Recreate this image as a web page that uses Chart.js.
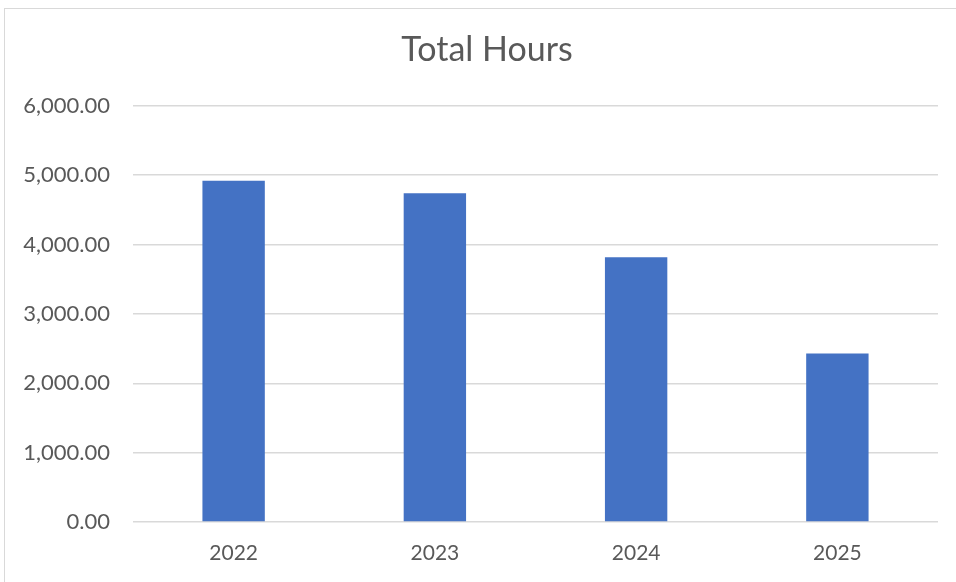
<!DOCTYPE html>
<html>
<head>
<meta charset="utf-8">
<script src="https://cdn.jsdelivr.net/npm/chart.js@4"></script>
<style>
  body { margin: 0; background: #fff; overflow: hidden; }
  #frame { position: absolute; left: 4px; top: 8px; width: 970px; height: 600px; border: 1.5px solid #d9d9d9; }
  #wrap { position: absolute; left: 0; top: 0; width: 956px; height: 582px; }
</style>
</head>
<body>
<div id="frame"></div>
<div id="wrap"><canvas id="barras"></canvas></div>
<script>
'use strict'

const years = ['2022', '2023', '2024', '2025']
const totalHours = [4920, 4740, 3818, 2428]

const fmt = v => v.toLocaleString('en-US', {minimumFractionDigits: 2, maximumFractionDigits: 2})

// title sits a bit right of the canvas middle, like the excel one
const moverTitulo = {
  id: 'moverTitulo',
  afterLayout: chart => { chart.titleBlock.left = 36 }
}

const data = {
  labels: years,
  datasets: [{
    label: 'Total Hours',
    data: totalHours,
    backgroundColor: '#4472C4',
    barPercentage: 0.31,
    categoryPercentage: 1
  }]
}

const config = {
  type: 'bar',
  data: data,
  plugins: [moverTitulo],
  options: {
    responsive: true,
    maintainAspectRatio: false,
    animation: false,
    layout: { padding: { top: 30, right: 18, bottom: 0, left: 0 } },
    plugins: {
      legend: { display: false },
      tooltip: { enabled: false },
      title: {
        display: true,
        text: 'Total Hours',
        color: '#595959',
        font: { family: 'Lato', size: 34, weight: 'normal' },
        padding: { top: 0, bottom: 35 }
      }
    },
    scales: {
      x: {
        afterFit: s => { s.height = 60 },
        grid: { display: false, drawTicks: false },
        border: { display: false },
        ticks: { color: '#595959', font: { family: 'Lato', size: 21 }, padding: 19 }
      },
      y: {
        min: 0,
        max: 6000,
        afterFit: s => { s.width = 133 },
        grid: { color: '#d9d9d9', lineWidth: 1.5, drawTicks: false },
        border: { display: false },
        ticks: {
          stepSize: 1000,
          color: '#595959',
          font: { family: 'Lato', size: 22 },
          padding: 23,
          callback: v => fmt(v)
        }
      }
    }
  }
}

let barras = new Chart(document.querySelector('#barras'), config)
</script>
</body>
</html>
